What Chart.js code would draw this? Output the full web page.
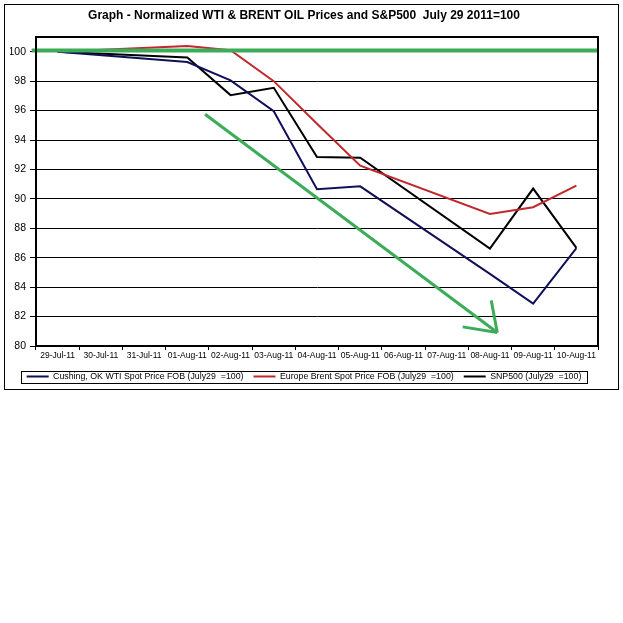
<!DOCTYPE html>
<html>
<head>
<meta charset="utf-8">
<script src="https://cdn.jsdelivr.net/npm/chart.js@4.4.1/dist/chart.umd.min.js"></script>
<style>
    html, body { margin: 0; padding: 0; background: #fff; }
    #frame { position: absolute; left: 4px; top: 4px; width: 613px; height: 384px; border: 1px solid #000; }
    canvas { display: block; }
</style>
</head>
<body>
<div id="frame"><canvas id="chartCanvas" width="613" height="386"></canvas></div>
<script>
const days = ["29-Jul-11", "30-Jul-11", "31-Jul-11", "01-Aug-11", "02-Aug-11", "03-Aug-11", "04-Aug-11",
              "05-Aug-11", "06-Aug-11", "07-Aug-11", "08-Aug-11", "09-Aug-11", "10-Aug-11"];

// normalized values (July 29 = 100); weekends have no quote
const wti   = [100, null, null, 99.3, 98.05, 95.95, 90.65, 90.85, null, null, 84.9, 82.88, 86.65];
const brent = [100, null, null, 100.38, 100.1, 98.0, 95.1, 92.25, null, null, 88.98, 89.43, 90.9];
const snp   = [100, null, null, 99.6, 97.05, 97.55, 92.85, 92.8, null, null, 86.62, 90.7, 86.67];

const seriesNames = [
    "Cushing, OK WTI Spot Price FOB (July29  =100)",
    "Europe Brent Spot Price FOB (July29  =100)",
    "SNP500 (July29  =100)"
];
const seriesColors = ["#10105a", "#c0282c", "#000000"];

const yMin = 80, yMax = 101, yStep = 2;
const titleText = "Graph - Normalized WTI & BRENT OIL Prices and S&P500  July 29 2011=100";

// hand drawn marks (category index, value)
const baseX = [-0.6, 12.5];
const baseY = [100.08, 100.08];
const arrowX = [3.41, 10.17];
const arrowY = [95.75, 80.92];
const headAX = [10.03, 10.17];
const headAY = [83.1, 80.92];
const headBX = [9.37, 10.17];
const headBY = [81.3, 80.92];
const green = "#3dac58";

const pairs = (xs, ys) => xs.map((x, i) => ({x: x, y: ys[i]}));

const frames = {
    id: "frames",
    afterDraw(chart) {
        const ctx = chart.ctx;
        const a = chart.chartArea;
        ctx.save();
        ctx.strokeStyle = "#000";
        ctx.lineWidth = 2;
        ctx.strokeRect(a.left, a.top, a.right - a.left, a.bottom - a.top);

        const boxes = chart.legend.legendHitBoxes;
        if (boxes && boxes.length) {
            const l = Math.min(...boxes.map(b => b.left)) - 6;
            const r = Math.max(...boxes.map(b => b.left + b.width)) + 5;
            const t = boxes[0].top - 1;
            const h = boxes[0].height + 3;
            ctx.lineWidth = 1;
            ctx.strokeRect(Math.round(l) + 0.5, Math.round(t) + 0.5, Math.round(r - l), Math.round(h));
        }
        ctx.restore();
    }
};

const lineSet = (label, data, color) => ({
    label: label,
    data: data,
    borderColor: color,
    backgroundColor: color,
    borderWidth: 2,
    pointRadius: 0,
    spanGaps: true,
    tension: 0
});

const markSet = (xs, ys, width) => ({
    label: "",
    data: pairs(xs, ys),
    xAxisID: "x2",
    borderColor: green,
    borderWidth: width,
    pointRadius: 0,
    clip: false,
    order: -1
});

const ctx = document.getElementById("chartCanvas").getContext("2d");
new Chart(ctx, {
    type: "line",
    data: {
        labels: days,
        datasets: [
            lineSet(seriesNames[0], wti, seriesColors[0]),
            lineSet(seriesNames[1], brent, seriesColors[1]),
            lineSet(seriesNames[2], snp, seriesColors[2]),
            markSet(baseX, baseY, 4),
            markSet(arrowX, arrowY, 3),
            markSet(headAX, headAY, 3),
            markSet(headBX, headBY, 3)
        ]
    },
    options: {
        responsive: false,
        animation: false,
        devicePixelRatio: 1,
        layout: { padding: { left: 5, right: 20, top: 0, bottom: 0 } },
        scales: {
            x: {
                type: "category",
                offset: true,
                grid: { drawOnChartArea: false, drawTicks: true, tickLength: 4, color: "#000", offset: true },
                border: { color: "#000", width: 2 },
                ticks: {
                    color: "#000", padding: 1, maxRotation: 0, autoSkip: false,
                    font: { family: "'Liberation Sans', Arial, sans-serif", size: 8.5 }
                }
            },
            x2: { type: "linear", display: false, min: -0.5, max: 12.5 },
            y: {
                min: yMin,
                max: yMax,
                grid: { color: "#000", lineWidth: 1, tickLength: 6 },
                border: { color: "#000", width: 2 },
                ticks: {
                    stepSize: yStep, color: "#000", padding: 4,
                    font: { family: "'Liberation Sans', Arial, sans-serif", size: 10.5 }
                },
                afterBuildTicks(scale) {
                    scale.ticks = scale.ticks.filter(t => t.value <= 100);
                },
                afterFit(scale) { scale.width = 26; }
            }
        },
        plugins: {
            title: {
                display: true,
                text: titleText,
                color: "#000",
                font: { family: "'Liberation Sans', Arial, sans-serif", size: 12, weight: "bold" },
                padding: { top: 3, bottom: 14.6 }
            },
            legend: {
                position: "bottom",
                align: "center",
                labels: {
                    color: "#000",
                    usePointStyle: true,
                    pointStyle: "line",
                    pointStyleWidth: 22,
                    padding: 10,
                    font: { family: "'Liberation Sans', Arial, sans-serif", size: 8.8 },
                    filter: item => item.text !== ""
                }
            },
            tooltip: { enabled: false }
        }
    },
    plugins: [frames]
});
</script>
</body>
</html>
